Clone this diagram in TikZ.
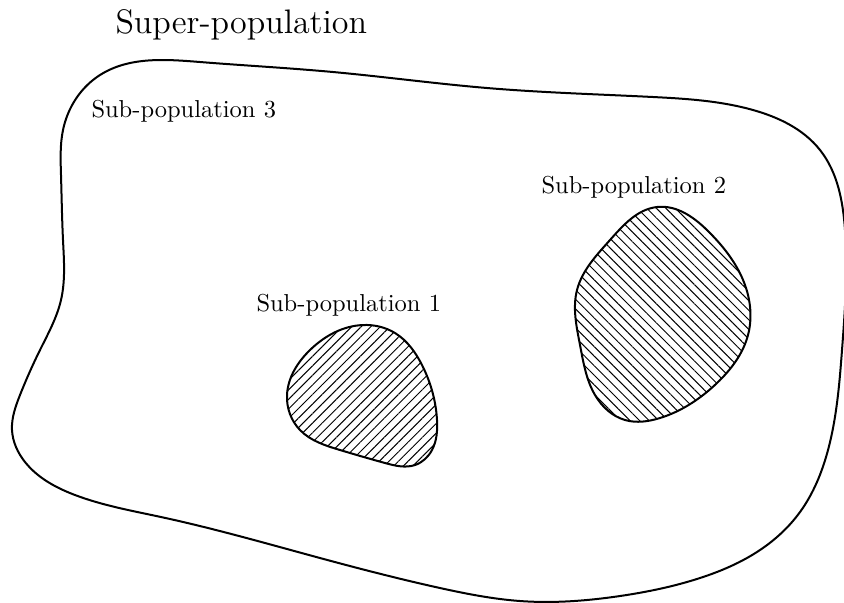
\documentclass[tikz,border=0pt]{standalone}
\usetikzlibrary{patterns.meta,hobby}
\begin{document}
\begin{tikzpicture}[x=0.4pt,y=-0.4pt,
  region/.style={line width=0.8pt},
  hatchA/.style={pattern={Lines[angle=45,distance=2.7pt,line width=0.4pt]}},
  hatchB/.style={pattern={Lines[angle=-45,distance=2.7pt,line width=0.4pt]}},
  sublabel/.style={anchor=base west,inner sep=0pt,font=\fontsize{9.8}{12}\selectfont},
  suplabel/.style={anchor=base west,inner sep=0pt,font=\fontsize{13.6}{16}\selectfont}]
\useasboundingbox (0,0) rectangle (844,602);
% outer super-population
\draw[region,use Hobby shortcut,closed=true]
 (63,130) .. (100,75) .. (200,62) .. (333,72) .. (487,88) .. (653,97) .. (753,110) .. (820,150)
 .. (845,230) .. (842,350) .. (828,450) .. (800,512) .. (760,550) .. (700,578) .. (620,596)
 .. (520,601) .. (440,588) .. (320,558) .. (161,517) .. (75,495) .. (25,462) .. (12,430)
 .. (20,395) .. (40,350) .. (61,300) .. (63,240) .. (61,175);
% sub-population 1
\draw[region,hatchA,use Hobby shortcut,closed=true]
 (363,325) .. (310,350) .. (287,395) .. (300,430) .. (340,450) .. (385,463) .. (415,465)
 .. (432,450) .. (437,420) .. (422,365) .. (395,333);
% sub-population 2
\draw[region,hatchB,use Hobby shortcut,closed=true]
 (657,207) .. (610,240) .. (577,290) .. (580,345) .. (595,395) .. (625,420) .. (660,418)
 .. (717,383) .. (748,335) .. (745,285) .. (710,233);
\node[suplabel] (sup) at (115,33) {Super-population};
\node[sublabel] (s3) at (91,117) {Sub-population 3};
\node[sublabel] (s2) at (541,193) {Sub-population 2};
\node[sublabel] (s1) at (256,311) {Sub-population 1};
\end{tikzpicture}
\end{document}
